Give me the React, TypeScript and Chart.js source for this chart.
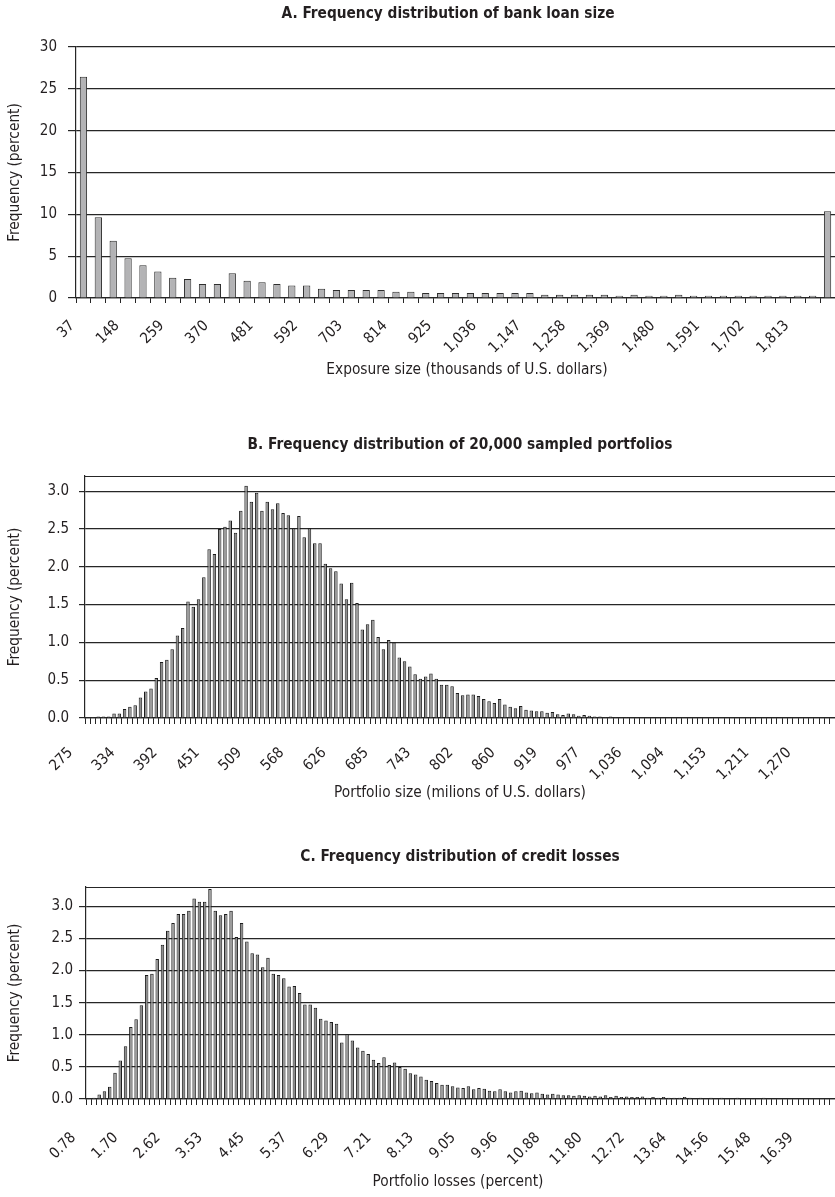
import React, { useEffect, useRef } from 'react';
import { Chart, registerables } from 'chart.js';

Chart.register(...registerables);

const FONT = '"Liberation Sans Narrow", "Arial Narrow", "DejaVu Sans Condensed", sans-serif';
const INK = '#231f20';
const LINE = '#262626';

// ---------- Panel A: bank loan size ----------
const A_CATEGORIES = [
  '37', '74', '111', '148', '185', '222', '259', '296', '333', '370',
  '407', '444', '481', '518', '555', '592', '629', '666', '703', '740',
  '777', '814', '851', '888', '925', '962', '999', '1,036', '1,073', '1,110',
  '1,147', '1,184', '1,221', '1,258', '1,295', '1,332', '1,369', '1,406', '1,443', '1,480',
  '1,517', '1,554', '1,591', '1,628', '1,665', '1,702', '1,739', '1,776', '1,813', '1,850',
  '1,887',
];
const A_VALUES = [
  26.45, 9.64, 6.85, 4.75, 3.9, 3.17, 2.43, 2.26, 1.68, 1.68,
  2.97, 2.07, 1.87, 1.68, 1.48, 1.48, 1.12, 0.95, 0.95, 0.95,
  0.95, 0.75, 0.75, 0.6, 0.6, 0.6, 0.6, 0.6, 0.6, 0.6,
  0.6, 0.4, 0.4, 0.4, 0.4, 0.4, 0.28, 0.4, 0.28, 0.28,
  0.4, 0.28, 0.28, 0.28, 0.28, 0.28, 0.28, 0.28, 0.28, 0.28,
  10.36,
];

// ---------- Panel B: sampled portfolio size ----------
const B_TICK_LABELS = [
  '275', '334', '392', '451', '509', '568', '626', '685', '743',
  '802', '860', '919', '977', '1,036', '1,094', '1,153', '1,211', '1,270',
];
const B_VALUES = [
  0, 0.01, 0.02, 0.02, 0.02, 0.06, 0.06, 0.12, 0.15, 0.17,
  0.27, 0.35, 0.39, 0.53, 0.74, 0.77, 0.91, 1.09, 1.19, 1.54,
  1.47, 1.57, 1.86, 2.23, 2.17, 2.5, 2.53, 2.61, 2.45, 2.74,
  3.07, 2.86, 2.98, 2.74, 2.86, 2.76, 2.84, 2.71, 2.68, 2.51,
  2.67, 2.39, 2.51, 2.31, 2.31, 2.04, 1.98, 1.94, 1.78, 1.57,
  1.79, 1.52, 1.17, 1.24, 1.3, 1.07, 0.91, 1.03, 1.0, 0.8,
  0.75, 0.68, 0.58, 0.52, 0.55, 0.59, 0.52, 0.44, 0.44, 0.42,
  0.33, 0.3, 0.31, 0.31, 0.29, 0.25, 0.22, 0.2, 0.25, 0.18,
  0.15, 0.13, 0.16, 0.11, 0.1, 0.09, 0.09, 0.07, 0.08, 0.05,
  0.04, 0.06, 0.05, 0.03, 0.04, 0.03, 0.02, 0.02, 0.01, 0.02,
  0.01, 0.01, 0.01, 0.005, 0.01, 0, 0, 0, 0, 0,
  0, 0, 0, 0, 0, 0, 0, 0, 0, 0,
  0, 0, 0, 0, 0, 0, 0, 0, 0, 0,
  0, 0, 0, 0, 0, 0, 0, 0, 0, 0,
  0, 0,
];

// ---------- Panel C: credit losses ----------
const C_TICK_LABELS = [
  '0.78', '1.70', '2.62', '3.53', '4.45', '5.37', '6.29', '7.21', '8.13',
  '9.05', '9.96', '10.88', '11.80', '12.72', '13.64', '14.56', '15.48', '16.39',
];
const C_VALUES = [
  0.01, 0.02, 0.07, 0.12, 0.19, 0.41, 0.6, 0.82, 1.12, 1.24,
  1.46, 1.93, 1.95, 2.18, 2.4, 2.62, 2.74, 2.88, 2.88, 2.93,
  3.12, 3.07, 3.07, 3.27, 2.93, 2.86, 2.88, 2.93, 2.52, 2.74,
  2.45, 2.27, 2.25, 2.05, 2.2, 1.95, 1.93, 1.88, 1.75, 1.76,
  1.65, 1.47, 1.47, 1.42, 1.25, 1.22, 1.2, 1.17, 0.88, 1.01,
  0.91, 0.8, 0.75, 0.7, 0.61, 0.56, 0.65, 0.53, 0.57, 0.5,
  0.47, 0.4, 0.38, 0.35, 0.3, 0.28, 0.25, 0.22, 0.22, 0.2,
  0.18, 0.17, 0.2, 0.15, 0.17, 0.16, 0.13, 0.12, 0.15, 0.12,
  0.1, 0.12, 0.13, 0.1, 0.09, 0.1, 0.08, 0.07, 0.08, 0.07,
  0.06, 0.06, 0.05, 0.06, 0.05, 0.04, 0.05, 0.04, 0.06, 0.03,
  0.05, 0.03, 0.04, 0.03, 0.03, 0.04, 0.02, 0.03, 0.02, 0.03,
  0.02, 0.02, 0.02, 0.03, 0.02, 0.01, 0.02, 0.01, 0.02, 0.01,
  0.02, 0.01, 0.01, 0.02, 0.01, 0.01, 0.01, 0.01, 0.02, 0.01,
  0.01, 0, 0.01, 0, 0, 0.01, 0, 0, 0, 0,
  0, 0,
];

const REF_TITLE = 'B. Frequency distribution of 20,000 sampled portfolios';
const REF_XTITLE = 'Portfolio size (milions of U.S. dollars)';

type PanelCfg = {
  canvasTop: number;
  canvasHeight: number;
  plotTop: number;
  plotBottom: number;
  plotLeft: number;
  labels: string[];
  values: number[];
  tickText: (i: number) => string;
  yMax: number;
  yStep: number;
  yDecimals: number;
  labelOffset: number;
  labelPad: number;
  xTickLen: number;
  yTickLen: number;
  yLabelPad: number;
  barPct: number;
  fill: string;
  edge: string;
  title: string;
  titleX: number;
  titleY: number;
  xTitle: string;
  xTitleX: number;
  xTitleY: number;
  yTitle: string;
  yTitleX: number;
  topBorder: boolean;
};

function fitFont(ctx: CanvasRenderingContext2D, text: string, weight: string, target: number) {
  ctx.font = `${weight} 20px ${FONT}`;
  const w = ctx.measureText(text).width;
  const size = (20 * target) / w;
  return `${weight} ${size.toFixed(2)}px ${FONT}`;
}

function textPlugin(cfg: PanelCfg) {
  return {
    id: 'panelText',
    afterDraw(chart: any) {
      const { ctx, chartArea: a } = chart;
      const off = cfg.canvasTop;
      if (cfg.topBorder) {
        ctx.save();
        ctx.strokeStyle = LINE;
        ctx.lineWidth = 1.2;
        ctx.beginPath();
        const y = Math.round(a.top) + 0.5;
        ctx.moveTo(a.left, y);
        ctx.lineTo(a.right, y);
        ctx.stroke();
        ctx.restore();
      }
      ctx.save();
      ctx.fillStyle = INK;
      ctx.textAlign = 'center';
      ctx.textBaseline = 'middle';
      ctx.font = fitFont(ctx, REF_TITLE, 'bold', 425);
      ctx.fillText(cfg.title, cfg.titleX, cfg.titleY - off);
      ctx.font = fitFont(ctx, REF_XTITLE, 'normal', 252);
      ctx.fillText(cfg.xTitle, cfg.xTitleX, cfg.xTitleY - off);
      ctx.translate(cfg.yTitleX, (a.top + a.bottom) / 2);
      ctx.rotate(-Math.PI / 2);
      ctx.fillText(cfg.yTitle, 0, 0);
      ctx.restore();
    },
  };
}

const PANELS: PanelCfg[] = [
  {
    canvasTop: 0,
    canvasHeight: 395,
    plotTop: 47,
    plotBottom: 298,
    plotLeft: 76,
    labels: A_CATEGORIES,
    values: A_VALUES,
    tickText: (i) => (i % 3 === 0 && i <= 48 ? A_CATEGORIES[i] : ''),
    yMax: 30,
    yStep: 5,
    yDecimals: 0,
    labelOffset: -11,
    labelPad: 14,
    xTickLen: 5,
    yTickLen: 8,
    yLabelPad: 11,
    barPct: 0.49,
    fill: '#b3b3b5',
    edge: '#2e2e2e',
    title: 'A. Frequency distribution of bank loan size',
    titleX: 448,
    titleY: 14,
    xTitle: 'Exposure size (thousands of U.S. dollars)',
    xTitleX: 467,
    xTitleY: 370,
    yTitle: 'Frequency (percent)',
    yTitleX: 15,
    topBorder: false,
  },
  {
    canvasTop: 395,
    canvasHeight: 410,
    plotTop: 476,
    plotBottom: 718,
    plotLeft: 85,
    labels: B_VALUES.map((_, i) => String(i)),
    values: B_VALUES,
    tickText: (i) => (i % 8 === 0 && B_TICK_LABELS[i / 8] ? B_TICK_LABELS[i / 8] : ''),
    yMax: 3.2,
    yStep: 0.5,
    yDecimals: 1,
    labelOffset: -17,
    labelPad: 20,
    xTickLen: 6,
    yTickLen: 6,
    yLabelPad: 10,
    barPct: 0.66,
    fill: '#8e8e8e',
    edge: '#1c1c1c',
    title: 'B. Frequency distribution of 20,000 sampled portfolios',
    titleX: 460,
    titleY: 445,
    xTitle: 'Portfolio size (milions of U.S. dollars)',
    xTitleX: 460,
    xTitleY: 793,
    yTitle: 'Frequency (percent)',
    yTitleX: 15,
    topBorder: true,
  },
  {
    canvasTop: 805,
    canvasHeight: 392,
    plotTop: 887,
    plotBottom: 1099,
    plotLeft: 86,
    labels: C_VALUES.map((_, i) => String(i)),
    values: C_VALUES,
    tickText: (i) => (i % 8 === 0 && C_TICK_LABELS[i / 8] ? C_TICK_LABELS[i / 8] : ''),
    yMax: 3.3,
    yStep: 0.5,
    yDecimals: 1,
    labelOffset: -15,
    labelPad: 24,
    xTickLen: 6,
    yTickLen: 7,
    yLabelPad: 6,
    barPct: 0.66,
    fill: '#8e8e8e',
    edge: '#1c1c1c',
    title: 'C. Frequency distribution of credit losses',
    titleX: 460,
    titleY: 857,
    xTitle: 'Portfolio losses (percent)',
    xTitleX: 458,
    xTitleY: 1182,
    yTitle: 'Frequency (percent)',
    yTitleX: 15,
    topBorder: true,
  },
];

function PanelChart({ cfg }: { cfg: PanelCfg }) {
  const ref = useRef<HTMLCanvasElement>(null);
  useEffect(() => {
    const canvas = ref.current;
    if (!canvas) return;
    const tickFont = { family: FONT, size: 15 };
    const chart = new Chart(canvas, {
      type: 'bar',
      data: {
        labels: cfg.labels,
        datasets: [
          {
            data: cfg.values,
            backgroundColor: cfg.fill,
            borderColor: cfg.edge,
            borderWidth: 1,
            barPercentage: cfg.barPct,
            categoryPercentage: 1,
          },
        ],
      },
      options: {
        animation: false,
        responsive: false,
        devicePixelRatio: 1,
        layout: { padding: { top: cfg.plotTop - cfg.canvasTop, left: 0, right: 0, bottom: 0 } },
        plugins: {
          legend: { display: false },
          tooltip: { enabled: false },
          title: { display: false },
        },
        scales: {
          x: {
            type: 'category',
            offset: true,
            grid: {
              display: true,
              drawOnChartArea: false,
              drawTicks: true,
              tickLength: cfg.xTickLen,
              offset: true,
              color: LINE,
              lineWidth: 1,
            },
            border: { display: true, color: LINE, width: 1.2 },
            ticks: {
              autoSkip: false,
              maxRotation: 45,
              minRotation: 45,
              labelOffset: cfg.labelOffset,
              padding: cfg.labelPad,
              font: tickFont,
              color: INK,
              callback: (_v: any, i: number) => cfg.tickText(i),
            },
            afterFit: (s: any) => {
              s.height = cfg.canvasHeight - (cfg.plotBottom - cfg.canvasTop);
              s.paddingLeft = 0;
              s.paddingRight = 0;
            },
          },
          y: {
            min: 0,
            max: cfg.yMax,
            grid: { color: LINE, lineWidth: 1.2, drawTicks: true, tickLength: cfg.yTickLen },
            border: { display: true, color: LINE, width: 1.2 },
            ticks: {
              stepSize: cfg.yStep,
              includeBounds: false,
              padding: cfg.yLabelPad,
              font: tickFont,
              color: INK,
              callback: (v: any) => {
                const n = Number(v);
                const k = n / cfg.yStep;
                if (Math.abs(k - Math.round(k)) > 1e-6) return null;
                return n.toFixed(cfg.yDecimals);
              },
            },
            afterFit: (s: any) => {
              s.width = cfg.plotLeft;
            },
          },
        },
      },
      plugins: [textPlugin(cfg)],
    } as any);
    return () => chart.destroy();
  }, [cfg]);
  return (
    <canvas
      ref={ref}
      width={835}
      height={cfg.canvasHeight}
      style={{ position: 'absolute', left: 0, top: cfg.canvasTop, width: 835, height: cfg.canvasHeight }}
    />
  );
}

export default function App() {
  return (
    <div style={{ position: 'absolute', left: 0, top: 0, width: 835, height: 1197, background: '#ffffff' }}>
      {PANELS.map((p, i) => (
        <PanelChart key={i} cfg={p} />
      ))}
    </div>
  );
}
